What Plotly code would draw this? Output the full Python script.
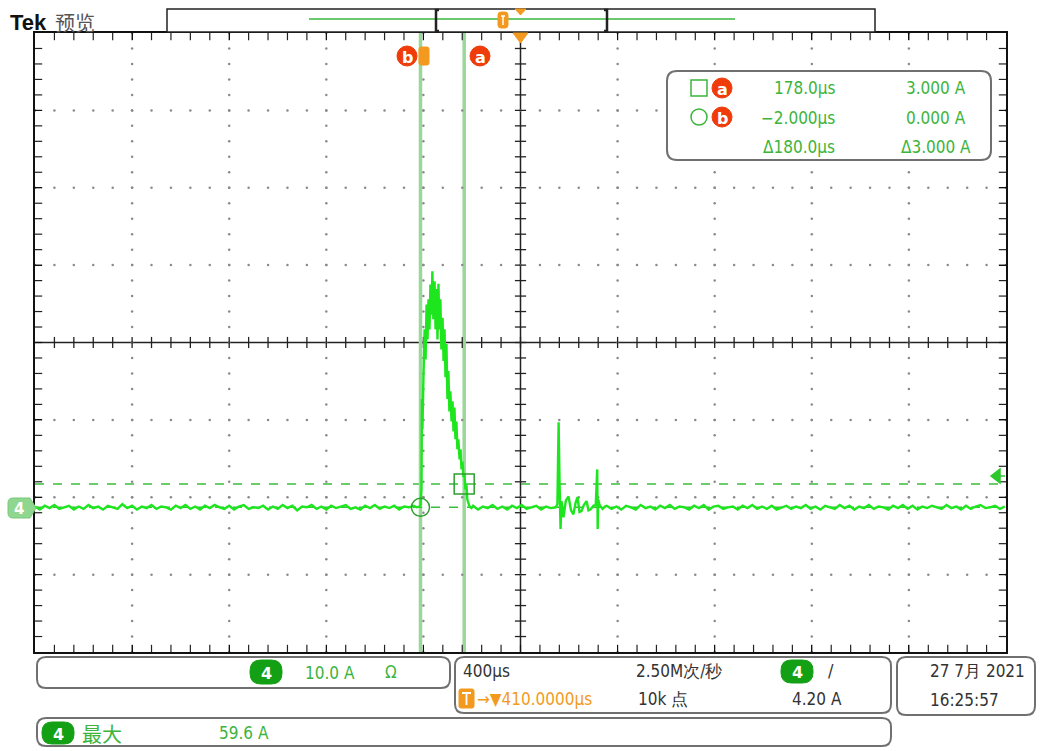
import numpy as np
import plotly.graph_objects as go

# ---------------- data (time in µs, current in A) ----------------
pre_noise = [0.1, -0.3, 0.2, -0.1, 0.3, -0.2, 0.0, 0.2, -0.3, 0.1,
             -0.2, 0.3, -0.1, 0.1, -0.3, 0.2, 0.0, -0.2, 0.4, -0.1,
             0.2, -0.3, 0.1, -0.1, 0.3, -0.2, 0.1, 0.0, -0.3, 0.2,
             -0.1, 0.3, -0.2, 0.1, -0.3, 0.2, -0.1, 0.3, 0.0, -0.2,
             0.2, -0.3, 0.1, 0.3, -0.2, 0.0, -0.1, 0.2, -0.3, 0.1,
             -0.2, 0.3, -0.1, 0.2, -0.4, 0.1, 0.0, 0.3, -0.2, 0.1,
             -0.3, 0.2, -0.1, 0.1, 0.3, -0.2, 0.0, -0.3, 0.2, -0.1,
             0.3, -0.2, 0.1, -0.1, 0.2, -0.3, 0.1, 0.0, 0.2]
pulse_t = [-18, -6, -2, 2, 4, 6, 10, 15, 19, 23, 27, 31, 35, 39, 43, 47, 51, 56, 60, 64,
           68, 72, 76, 80, 84, 89, 93, 97, 101, 105, 109, 113, 117, 121, 126, 130, 134, 138, 142, 146,
           150, 154, 159, 163, 167, 171, 175, 179, 183, 187, 191, 200, 208]
pulse_a = [0.0, 0.1, 0.3, 2.3, 14.0, 10.1, 16.5, 23.0, 19.1, 26.2, 21.7, 26.9, 23.0, 28.8, 24.9, 30.5, 24.3, 29.2, 23.0, 28.2,
           21.7, 28.9, 23.0, 26.9, 20.4, 24.5, 18.9, 23.0, 16.8, 21.1, 14.0, 17.6, 12.4, 15.0, 11.1, 13.7, 9.8, 12.9, 8.8, 11.1,
           7.5, 8.8, 6.2, 7.5, 4.9, 5.9, 3.9, 4.4, 2.3, 3.1, 1.0, 0.1, -0.1]
mid_noise = [0.2, -0.3, 0.1, -0.1, 0.3, -0.2, 0.1, -0.3, 0.2, -0.1, 0.3, -0.2, 0.0, 0.2, -0.3, 0.1, -0.1]
ring_t = [555, 562, 565, 567, 571, 575, 579, 587, 597, 608, 618, 628, 637, 645, 653, 661, 671, 682, 690, 698,
          710, 720, 726, 728, 730, 736, 748, 758]
ring_a = [0.0, 0.4, 6.0, 11.0, 3.0, -2.8, 0.8, -1.3, 0.9, 1.4, -0.4, -0.9, 0.6, 1.3, -0.6, -0.5, 0.3, 0.8, -0.4, -0.3,
          0.2, 0.3, 4.9, -2.8, 1.0, 0.3, -0.2, 0.1]
post_noise = [0.2, -0.2, 0.1, -0.3, 0.2, 0.0, -0.3, 0.3, -0.1, 0.1,
              -0.3, 0.2, -0.1, 0.3, -0.2, 0.1, 0.0, -0.3, 0.2, -0.1,
              0.3, -0.3, 0.1, 0.2, -0.2, 0.0, 0.1, -0.3, 0.2, -0.1,
              0.3, -0.2, 0.1, -0.2, 0.2, -0.3, 0.0, 0.2, -0.2, 0.1,
              -0.1, 0.3, -0.2, 0.1, -0.3, 0.2, 0.0, -0.2, 0.3, -0.1,
              0.2, -0.3, 0.1, -0.1, 0.3, -0.2, 0.1, 0.0, -0.3, 0.2,
              -0.1, 0.3, -0.2, 0.2, -0.3, 0.1, -0.1, 0.2, 0.0, -0.2,
              0.3, -0.1, 0.1, -0.3, 0.2, -0.2, 0.1, 0.3, -0.1, 0.0,
              0.2, -0.2, 0.1]

cursor_a = (178.0, 3.0)
cursor_b = (-2.0, 0.0)
trig_level = 4.20
trig_pos = 410.0
readout = [("178.0µs", "3.000 A"), ("−2.000µs", "0.000 A"), ("Δ180.0µs", "Δ3.000 A")]

# screen: 10 div x 400 µs, 8 div x 10 A
T_LEFT, T_RIGHT = trig_pos - 2000, trig_pos + 2000
A_BOT = -18.7
A_TOP = A_BOT + 80
A_MID = A_BOT + 40

pre_t = T_LEFT + 20 * np.arange(len(pre_noise))
mid_t = 215 + 20 * np.arange(len(mid_noise))
post_t = 765 + 20 * np.arange(len(post_noise))
t_all = np.concatenate([pre_t, pulse_t, mid_t, ring_t, post_t])
a_all = np.concatenate([pre_noise, pulse_a, mid_noise, ring_a, post_noise])

W, H = 1040, 751
GX0, GX1, GY0, GY1 = 35, 1006, 33, 652
US_PER_PX = 4000 / (GX1 - GX0)
A_PER_PX = 80 / (GY1 - GY0)

FONT = "DejaVu Sans Condensed, Liberation Sans Narrow, DejaVu Sans, sans-serif"
CJK = "Noto Sans CJK SC, sans-serif"
GREEN_TXT = "#3cb43c"
TRACE = "#1ee61e"
ORANGE = "#f39a1e"
RED = "#f03c0a"
BADGE = "#14a014"

fig = go.Figure()

# graticule dots
gx, gy = [], []
for k in range(1, 10):
    if k == 5:
        continue
    for j in range(41):
        gx.append(T_LEFT + 400 * k)
        gy.append(A_BOT + 2 * j)
for m in range(1, 8):
    if m == 4:
        continue
    for i in range(51):
        gx.append(T_LEFT + 80 * i)
        gy.append(A_BOT + 10 * m)
fig.add_trace(go.Scatter(x=gx, y=gy, mode="markers", hoverinfo="skip",
                         marker=dict(size=2.5, color="#8a8a8a")))
# centre-line ticks
fig.add_trace(go.Scatter(x=[T_LEFT + 80 * i for i in range(1, 50)], y=[A_MID] * 49, mode="markers",
                         hoverinfo="skip",
                         marker=dict(symbol="line-ns", size=8, line=dict(color="#222", width=1.3))))
fig.add_trace(go.Scatter(x=[trig_pos] * 39, y=[A_BOT + 2 * j for j in range(1, 40)], mode="markers",
                         hoverinfo="skip",
                         marker=dict(symbol="line-ew", size=8, line=dict(color="#222", width=1.3))))
# border ticks (inside, every 1/5 division)
bx = [T_LEFT + 80 * i for i in range(1, 50)]
by = [A_BOT + 2 * j for j in range(1, 40)]
off_x = 3 * US_PER_PX
off_y = 3 * A_PER_PX
fig.add_trace(go.Scatter(x=bx + bx, y=[A_TOP - off_y] * 49 + [A_BOT + off_y] * 49, mode="markers",
                         hoverinfo="skip",
                         marker=dict(symbol="line-ns", size=6, line=dict(color="#222", width=1.2))))
fig.add_trace(go.Scatter(x=[T_LEFT + off_x] * 39 + [T_RIGHT - off_x] * 39, y=by + by, mode="markers",
                         hoverinfo="skip",
                         marker=dict(symbol="line-ew", size=6, line=dict(color="#222", width=1.2))))

# waveform
fig.add_trace(go.Scatter(x=t_all, y=a_all, mode="lines", hoverinfo="skip",
                         line=dict(color=TRACE, width=2.4)))
# cursor markers
fig.add_trace(go.Scatter(x=[cursor_b[0]], y=[cursor_b[1]], mode="markers", hoverinfo="skip",
                         marker=dict(symbol="circle-open", size=18, color="#2e9e2e",
                                     line=dict(color="#2e9e2e", width=1.5))))
fig.add_trace(go.Scatter(x=[cursor_a[0]], y=[cursor_a[1]], mode="markers", hoverinfo="skip",
                         marker=dict(symbol="square-open", size=20, color="#2e9e2e",
                                     line=dict(color="#2e9e2e", width=1.5))))
# dummy for overlay pixel axes
fig.add_trace(go.Scatter(x=[0], y=[0], xaxis="x2", yaxis="y2", mode="markers",
                         marker=dict(opacity=0), hoverinfo="skip"))

shapes = []
ann = []


def rrect(x0, y0, x1, y1, r):
    return (f"M{x0 + r},{y0} L{x1 - r},{y0} Q{x1},{y0} {x1},{y0 + r} L{x1},{y1 - r} Q{x1},{y1} {x1 - r},{y1} "
            f"L{x0 + r},{y1} Q{x0},{y1} {x0},{y1 - r} L{x0},{y0 + r} Q{x0},{y0} {x0 + r},{y0} Z")


def px_path(path, fill=None, line="#707070", width=2, layer="above"):
    shapes.append(dict(type="path", xref="x2", yref="y2", path=path,
                       fillcolor=fill if fill else "rgba(0,0,0,0)",
                       line=dict(color=line, width=width), layer=layer))


def text(x, y, s, color, size, xanchor="left", font=FONT, bold=False):
    if bold:
        s = f"<b>{s}</b>"
    ann.append(dict(x=x, y=y, xref="x2", yref="y2", text=s, showarrow=False, xanchor=xanchor,
                    yanchor="middle", font=dict(family=font, size=size, color=color)))


def badge(x0, y0, x1, y1, label):
    px_path(rrect(x0, y0, x1, y1, (y1 - y0) / 2.2), fill=BADGE, line=BADGE, width=1)
    text((x0 + x1) / 2, (y0 + y1) / 2 + 1, label, "white", 16, xanchor="center", bold=True,
         font="DejaVu Sans, sans-serif")


def red_circle(cx, cy, label):
    shapes.append(dict(type="circle", xref="x2", yref="y2", x0=cx - 10, x1=cx + 10, y0=cy - 10, y1=cy + 10,
                       fillcolor=RED, line=dict(color=RED, width=1)))
    text(cx, cy + 1, label, "white", 16, xanchor="center", bold=True, font="DejaVu Sans, sans-serif")


# centre crosshair
shapes.append(dict(type="line", xref="x", yref="y", x0=trig_pos, x1=trig_pos, y0=A_BOT, y1=A_TOP,
                   line=dict(color="#222", width=1.5), layer="below"))
shapes.append(dict(type="line", xref="x", yref="y", x0=T_LEFT, x1=T_RIGHT, y0=A_MID, y1=A_MID,
                   line=dict(color="#222", width=1.5), layer="below"))
# cursor lines
for (ct, ca) in (cursor_a, cursor_b):
    shapes.append(dict(type="line", xref="x", yref="y", x0=ct, x1=ct, y0=A_BOT, y1=A_TOP,
                       line=dict(color="#98d898", width=3.5), layer="below"))
    shapes.append(dict(type="line", xref="x", yref="y", x0=T_LEFT, x1=T_RIGHT, y0=ca, y1=ca,
                       line=dict(color="#3cbc3c", width=1.5, dash="dash"), layer="below"))

# top record bar
px_path("M167,9 L875,9 L875,32 L167,32 Z", fill="white", line="#222", width=1.5)
shapes.append(dict(type="line", xref="x2", yref="y2", x0=309, x1=735, y0=19, y1=19,
                   line=dict(color="#6cc86c", width=2)))
px_path("M439,10 L436,10 L436,31 L439,31", line="#222", width=2.5)
px_path("M604,10 L607,10 L607,31 L604,31", line="#222", width=2.5)
px_path(rrect(498, 12, 508, 28, 3), fill=ORANGE, line=ORANGE, width=1)
px_path("M501,16 L505,16 M503,16 L503,25", line="white", width=1.5)
px_path("M515,9 L526,9 L520.5,15 Z", fill=ORANGE, line=ORANGE, width=1)
# trigger position marker on graticule
px_path("M513,33 L528,33 L520.5,43 Z", fill=ORANGE, line=ORANGE, width=1)

# Tek title
text(8, 22, "Tek", "#111", 22, bold=True, font="Liberation Sans Narrow, Liberation Sans, sans-serif")
text(53, 22, "预览", "#555", 20, font=CJK)

# cursor labels at top
red_circle(407, 56, "b")
px_path(rrect(419, 47, 429, 65, 2), fill=ORANGE, line=ORANGE, width=1)
red_circle(480, 56, "a")

# readout box
px_path(rrect(667, 71, 991, 160, 10), fill="white", line="#707070", width=2)
shapes.append(dict(type="rect", xref="x2", yref="y2", x0=691, x1=707, y0=80, y1=96,
                   line=dict(color="#3cb43c", width=1.5)))
shapes.append(dict(type="circle", xref="x2", yref="y2", x0=691, x1=707, y0=109, y1=125,
                   line=dict(color="#3cb43c", width=1.5)))
red_circle(722, 88, "a")
red_circle(722, 117, "b")
for row, (tv, av) in enumerate(readout):
    y = 88 + row * 29.5
    text(837, y, tv, GREEN_TXT, 17, xanchor="right")
    text(968 if row < 2 else 973, y, av, GREEN_TXT, 17, xanchor="right")

# left channel tab and right trigger-level arrow
px_path("M8,503 Q8,498 13,498 L30,498 L36,508 L30,518 L13,518 Q8,518 8,513 Z", fill="#8fd68f",
        line="#7cc87c", width=1)
text(19, 509, "4", "white", 15, xanchor="center", bold=True, font="DejaVu Sans, sans-serif")
px_path("M991,476 L1000,469 L1000,483 Z M1000,476 L1005,476", fill="#2ec82e", line="#2ec82e", width=1.5)

# bottom boxes
px_path(rrect(37, 657, 450, 688, 9), fill="white")
px_path(rrect(455, 657, 891, 713, 9), fill="white")
px_path(rrect(897, 657, 1035, 715, 9), fill="white")
px_path(rrect(37, 718, 891, 746, 9), fill="white")

badge(250, 660, 282, 684, "4")
text(303, 673, "10.0 A", GREEN_TXT, 17)
text(383, 672, "Ω", GREEN_TXT, 17)

text(461, 671, "400µs", "#333", 17)
text(634, 671, "2.50M次/秒", "#333", 17)
badge(781, 660, 813, 683, "4")
text(826, 670, "/", "#333", 18)
px_path(rrect(459, 689, 474, 708, 2), fill=ORANGE, line=ORANGE, width=1)
px_path("M462,693 L471,693 M466.5,693 L466.5,705", line="white", width=1.8)
text(475, 699, "→▼410.0000µs", ORANGE, 17)
text(636, 699, "10k 点", "#333", 17)
text(790, 699, "4.20 A", "#333", 17)

text(928, 671, "27 7月 2021", "#333", 17)
text(928, 700, "16:25:57", "#333", 17)

badge(42, 722, 74, 744, "4")
text(80, 733, "最大", GREEN_TXT, 20, font=CJK)
text(217, 733, "59.6 A", GREEN_TXT, 17)

axis_common = dict(showgrid=False, zeroline=False, showline=True, linecolor="#111", linewidth=1.5,
                   mirror="ticks", ticks="inside", ticklen=7, tickcolor="#111", tickwidth=1.2,
                   showticklabels=False, fixedrange=True)
fig.update_layout(
    width=W, height=H, margin=dict(l=0, r=0, t=0, b=0),
    paper_bgcolor="white", plot_bgcolor="rgba(0,0,0,0)", showlegend=False,
    xaxis=dict(domain=[GX0 / W, GX1 / W], range=[T_LEFT, T_RIGHT], tick0=T_LEFT, dtick=400,
               **axis_common),
    yaxis=dict(domain=[1 - GY1 / H, 1 - GY0 / H], range=[A_BOT, A_TOP], tick0=A_BOT, dtick=10,
               **axis_common),
    xaxis2=dict(domain=[0, 1], range=[0, W], visible=False, anchor="y2", fixedrange=True),
    yaxis2=dict(domain=[0, 1], range=[H, 0], visible=False, anchor="x2", fixedrange=True),
    shapes=shapes, annotations=ann,
)

fig.write_html("out.html", config={"displayModeBar": False},
               post_script="document.body.style.margin='0';document.body.style.overflow='hidden';")
